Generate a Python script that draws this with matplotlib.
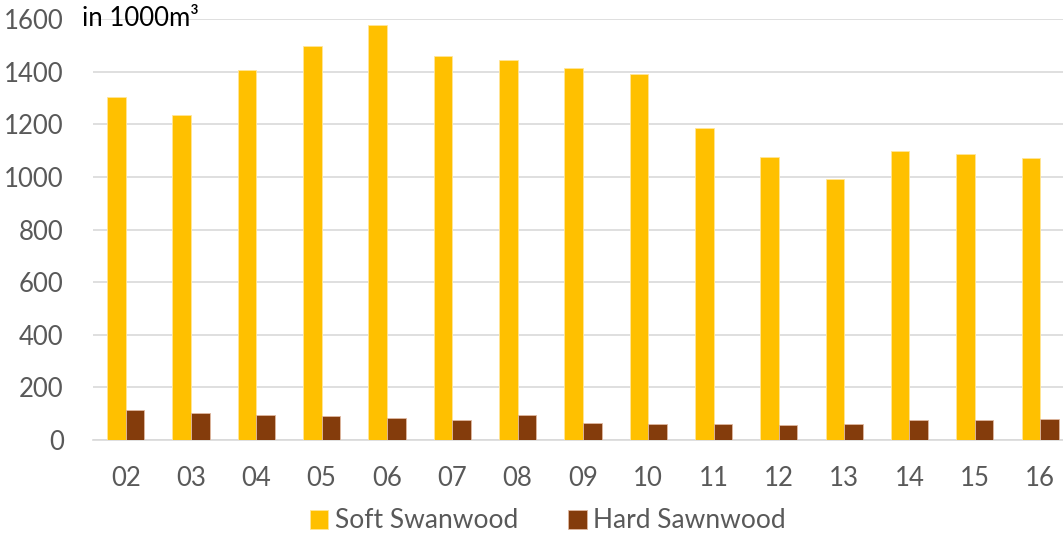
import numpy as np
import matplotlib.pyplot as plt

plt.rcParams['font.family'] = ['Lato', 'DejaVu Sans']

# Data
years = ['02', '03', '04', '05', '06', '07', '08', '09', '10', '11', '12', '13', '14', '15', '16']
soft = [1304, 1236, 1407, 1499, 1578, 1460, 1446, 1412, 1392, 1187, 1075, 991, 1100, 1086, 1071]
hard = [114, 104, 95, 90, 85, 75, 95, 66, 61, 61, 56, 61, 75, 75, 80]

fig = plt.figure(figsize=(10.63, 5.35), dpi=100)
ax = fig.add_axes([93 / 1063, 1 - 440 / 535, 1 - 93 / 1063, (440 - 19) / 535])

x = np.arange(len(years))
w = 0.285
ax.bar(x - w / 2, soft, w, color='#FFC000', edgecolor='#FFE699', linewidth=0.6,
       label='Soft Swanwood', zorder=3)
ax.bar(x + w / 2, hard, w, color='#843C0C', edgecolor='#E0B8A0', linewidth=0.6,
       label='Hard Sawnwood', zorder=3)

ax.set_xlim(-0.5, 14.35)
ax.set_ylim(0, 1600)
ax.set_yticks(range(0, 1601, 200))
ax.set_xticks(x)
ax.set_xticklabels(years)
ax.grid(axis='y', color='#D9D9D9', linewidth=1.2, zorder=0)
ax.tick_params(axis='both', length=0, labelsize=18.5, colors='#595959')
ax.tick_params(axis='x', pad=19)
ax.tick_params(axis='y', pad=21)
for s in ['top', 'right', 'left']:
    ax.spines[s].set_visible(False)
ax.spines['bottom'].set_color('#D9D9D9')
ax.spines['bottom'].set_linewidth(1.2)

fig.text(82 / 1063, 1 - 19 / 535, 'in 1000m³', fontsize=18.5, color='black', va='center')

fig.legend(loc='center', bbox_to_anchor=(548 / 1063, 1 - 521 / 535), ncol=2, frameon=False,
           fontsize=19, labelcolor='#595959', handlelength=0.7, handleheight=0.7,
           handletextpad=0.25, columnspacing=1.9)

fig.savefig('out.png', dpi=100)
